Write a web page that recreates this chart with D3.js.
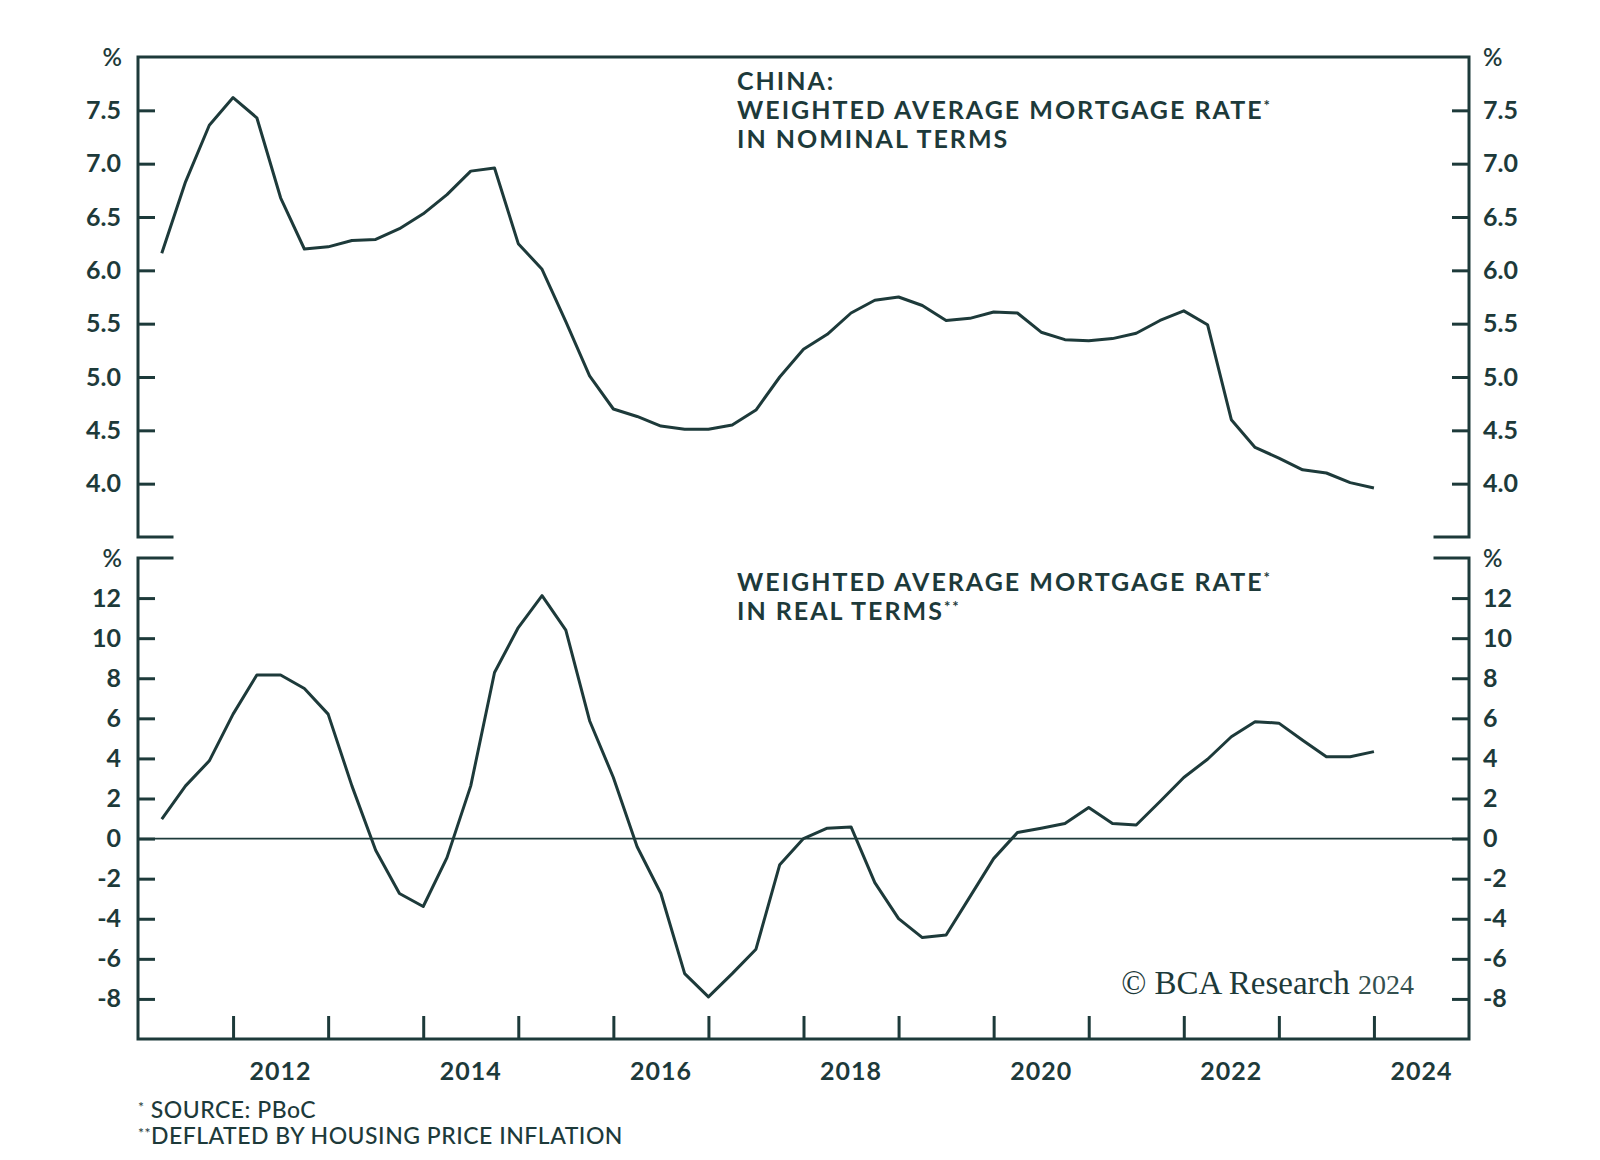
<!DOCTYPE html>
<html>
<head>
<meta charset="utf-8">
<script src="https://cdn.jsdelivr.net/npm/d3@7"></script>
<style>
  body { margin: 0; background: #fff; }
  svg { display: block; }
  text { font-family: Lato, "Open Sans", sans-serif; fill: #1d3a3a; }
</style>
</head>
<body>
<svg width="1600" height="1160"></svg>
<script>
// quarterly observations, 2011Q1 .. 2023Q4
const quarters = [
  "2011Q1","2011Q2","2011Q3","2011Q4","2012Q1","2012Q2","2012Q3","2012Q4",
  "2013Q1","2013Q2","2013Q3","2013Q4","2014Q1","2014Q2","2014Q3","2014Q4",
  "2015Q1","2015Q2","2015Q3","2015Q4","2016Q1","2016Q2","2016Q3","2016Q4",
  "2017Q1","2017Q2","2017Q3","2017Q4","2018Q1","2018Q2","2018Q3","2018Q4",
  "2019Q1","2019Q2","2019Q3","2019Q4","2020Q1","2020Q2","2020Q3","2020Q4",
  "2021Q1","2021Q2","2021Q3","2021Q4","2022Q1","2022Q2","2022Q3","2022Q4",
  "2023Q1","2023Q2","2023Q3","2023Q4"
];

const nominal = [
  6.16, 6.83, 7.36, 7.62, 7.43, 6.68, 6.20, 6.22,
  6.28, 6.29, 6.39, 6.53, 6.71, 6.93, 6.96, 6.25,
  6.01, 5.52, 5.01, 4.70, 4.63, 4.54, 4.51, 4.51,
  4.55, 4.69, 5.00, 5.26, 5.40, 5.60, 5.72, 5.75,
  5.67, 5.53, 5.55, 5.61, 5.60, 5.42, 5.35, 5.34,
  5.36, 5.41, 5.53, 5.62, 5.49, 4.60, 4.34, 4.24,
  4.13, 4.10, 4.01, 3.96
];

const real = [
  0.97, 2.63, 3.88, 6.21, 8.16, 8.16, 7.49, 6.21,
  2.63, -0.58, -2.74, -3.39, -0.95, 2.63, 8.29, 10.53,
  12.12, 10.40, 5.88, 3.05, -0.41, -2.74, -6.74, -7.90,
  -6.74, -5.52, -1.30, 0.00, 0.52, 0.58, -2.20, -3.99,
  -4.94, -4.81, -2.91, -1.00, 0.30, 0.52, 0.75, 1.55,
  0.75, 0.68, 1.85, 3.05, 3.96, 5.08, 5.83, 5.76,
  4.91, 4.08, 4.08, 4.34
];

const topTicks = [4.0, 4.5, 5.0, 5.5, 6.0, 6.5, 7.0, 7.5];
const botTicks = [-8, -6, -4, -2, 0, 2, 4, 6, 8, 10, 12];
const yearTicks = [2012, 2013, 2014, 2015, 2016, 2017, 2018, 2019, 2020, 2021, 2022, 2023, 2024];
const yearLabels = [2012, 2014, 2016, 2018, 2020, 2022, 2024];

const ink = "#1d3a3a";
const svg = d3.select("svg");

const left = 138, right = 1469;
const top1 = 57, bot1 = 537, top2 = 558, bot2 = 1039;

// quarter-end position in decimal years
const qx = q => +q.slice(0, 4) + (+q.slice(5)) * 0.25;

const x = d3.scaleLinear().domain([2011, 2025]).range([left, right]);
const yTop = d3.scaleLinear().domain([3.5, 8]).range([bot1, top1]);
const yBot = d3.scaleLinear().domain([-10, 14]).range([bot2, top2]);

function yAxes(scale, ticks, fmt) {
  const l = svg.append("g")
    .attr("transform", `translate(${left},0)`)
    .call(d3.axisLeft(scale).tickValues(ticks).tickSize(-17).tickPadding(17).tickFormat(fmt));
  const r = svg.append("g")
    .attr("transform", `translate(${right},0)`)
    .call(d3.axisRight(scale).tickValues(ticks).tickSize(-17).tickPadding(14).tickFormat(fmt));
  [l, r].forEach(g => {
    g.select(".domain").remove();
    g.selectAll(".tick line").attr("stroke", ink).attr("stroke-width", 3);
    g.selectAll(".tick text")
      .attr("fill", ink)
      .style("font-size", "25px")
      .style("font-weight", 700);
  });
}

yAxes(yTop, topTicks, d3.format(".1f"));
yAxes(yBot, botTicks, d => String(d));

// x axis: year ticks pointing up, labels mid-year
const xa = svg.append("g")
  .attr("transform", `translate(0,${bot2})`)
  .call(d3.axisBottom(x).tickValues(yearTicks).tickSize(-23).tickFormat(""));
xa.select(".domain").remove();
xa.selectAll(".tick line").attr("stroke", ink).attr("stroke-width", 3);

svg.append("g").selectAll("text")
  .data(yearLabels)
  .join("text")
  .attr("x", d => x(d + 0.5))
  .attr("y", 1080)
  .attr("text-anchor", "middle")
  .style("font-size", "25px")
  .style("font-weight", 700)
  .style("letter-spacing", "1px")
  .text(d => d);

// panel frames
const frame = svg.append("g")
  .attr("fill", "none")
  .attr("stroke", ink)
  .attr("stroke-width", 3)
  .attr("stroke-linecap", "square");
frame.append("path").attr("d",
  `M${left + 34},${bot1}H${left}V${top1}H${right}V${bot1}H${right - 34}`);
frame.append("path").attr("d",
  `M${left + 34},${top2}H${left}V${bot2}H${right}V${top2}H${right - 34}`);

// zero line
svg.append("line")
  .attr("x1", left).attr("x2", right)
  .attr("y1", yBot(0)).attr("y2", yBot(0))
  .attr("stroke", ink)
  .attr("stroke-width", 1.6);

const lineTop = d3.line()
  .x((d, i) => x(qx(quarters[i])))
  .y(d => yTop(d));
const lineBot = d3.line()
  .x((d, i) => x(qx(quarters[i])))
  .y(d => yBot(d));

svg.append("path")
  .datum(nominal)
  .attr("fill", "none")
  .attr("stroke", ink)
  .attr("stroke-width", 3)
  .attr("stroke-linejoin", "round")
  .attr("d", lineTop);

svg.append("path")
  .datum(real)
  .attr("fill", "none")
  .attr("stroke", ink)
  .attr("stroke-width", 3)
  .attr("stroke-linejoin", "round")
  .attr("d", lineBot);

// percent units
[[122, 66, "end"], [1483, 66, "start"], [122, 567, "end"], [1483, 567, "start"]].forEach(p => {
  svg.append("text")
    .attr("x", p[0]).attr("y", p[1])
    .attr("text-anchor", p[2])
    .style("font-size", "24px")
    .style("font-weight", 600)
    .text("%");
});

// panel titles
const titles = [
  [90, "CHINA:"],
  [118.5, "WEIGHTED AVERAGE MORTGAGE RATE", "*"],
  [148, "IN NOMINAL TERMS"],
  [591, "WEIGHTED AVERAGE MORTGAGE RATE", "*"],
  [619.5, "IN REAL TERMS", "**"]
];
titles.forEach(t => {
  const tx = svg.append("text")
    .attr("x", 737).attr("y", t[0])
    .style("font-size", "25px")
    .style("font-weight", 700)
    .style("letter-spacing", "2px")
    .text(t[1]);
  if (t[2]) tx.append("tspan").attr("dy", -8).style("font-size", "15px").text(t[2]);
});

// footnotes
const fn1 = svg.append("text").attr("x", 138).attr("y", 1118)
  .style("font-size", "23px").style("font-weight", 500).style("letter-spacing", "0.5px");
fn1.append("tspan").attr("dy", -6).style("font-size", "14px").text("*");
fn1.append("tspan").attr("dy", 6).text(" SOURCE: PBoC");
const fn2 = svg.append("text").attr("x", 138).attr("y", 1144)
  .style("font-size", "23px").style("font-weight", 500).style("letter-spacing", "0.5px");
fn2.append("tspan").attr("dy", -6).style("font-size", "14px").text("**");
fn2.append("tspan").attr("dy", 6).text("DEFLATED BY HOUSING PRICE INFLATION");

// watermark
const wm = svg.append("text")
  .attr("x", 1414).attr("y", 994)
  .attr("text-anchor", "end")
  .style("font-family", "'Liberation Serif', 'DejaVu Serif', serif")
  .style("font-size", "33px");
wm.append("tspan").text("© BCA Research ");
wm.append("tspan").style("font-size", "28px").attr("fill", "#34504f").text("2024");
</script>
</body>
</html>
